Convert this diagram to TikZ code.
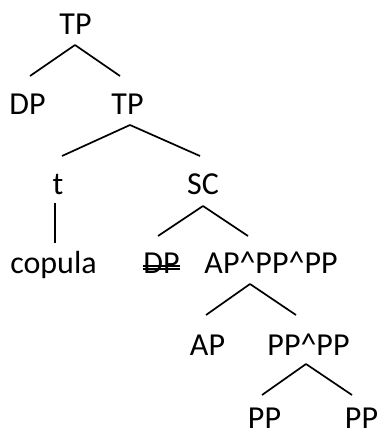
\documentclass[tikz,border=0pt]{standalone}
\usepackage{fontspec}
\setmainfont{Carlito}
\usepackage{tikz}

\begin{document}
\begin{tikzpicture}[
  x=0.5pt, y=-0.5pt,
  w/.style={anchor=base, inner sep=0pt, font=\fontsize{16}{19}\selectfont},
  br/.style={line width=0.85pt},
  strike/.style={line width=0.65pt}
]
  \useasboundingbox (0,0) rectangle (379,432);

  \node[w] (tp0)  at (75.5,35)  {TP};
  \node[w] (dp)   at (27.5,115) {DP};
  \node[w] (tp1)  at (127.5,115) {TP};
  \node[w] (t)    at (58,195)   {t};
  \node[w] (sc)   at (203,195)  {SC};
  \node[w] (cop)  at (53.5,273) {copula};
  \node[w] (dpx)  at (161.5,273) {DP};
  \node[w] (app)  at (271,273)  {AP\textasciicircum PP\textasciicircum PP};
  \node[w] (ap)   at (207.5,355) {AP};
  \node[w] (pp)   at (308.5,355) {PP\textasciicircum PP};
  \node[w] (pp1)  at (264.5,428) {PP};
  \node[w] (pp2)  at (361.5,428) {PP};

  \draw[br] ([shift={(-0.5,10)}]tp0.base) -- ([shift={(2.5,-39)}]dp.base);
  \draw[br] ([shift={(-0.5,10)}]tp0.base) -- ([shift={(-7.5,-39)}]tp1.base);
  \draw[br] ([shift={(2.5,10)}]tp1.base) -- ([shift={(4,-39)}]t.base);
  \draw[br] ([shift={(2.5,10)}]tp1.base) -- ([shift={(-3,-39)}]sc.base);
  \draw[br] ([shift={(-3,8)}]t.base) -- ([shift={(1.5,-30)}]cop.base);
  \draw[br] ([shift={(0,11)}]sc.base) -- ([shift={(-3.5,-37)}]dpx.base);
  \draw[br] ([shift={(0,11)}]sc.base) -- ([shift={(-23,-37)}]app.base);
  \draw[br] ([shift={(-21,11)}]app.base) -- ([shift={(-1.5,-40)}]ap.base);
  \draw[br] ([shift={(-21,11)}]app.base) -- ([shift={(-12.5,-40)}]pp.base);
  \draw[br] ([shift={(-2.5,9)}]pp.base) -- ([shift={(-2.5,-33)}]pp1.base);
  \draw[br] ([shift={(-2.5,9)}]pp.base) -- ([shift={(-9.5,-33)}]pp2.base);

  % double strike through the moved DP
  \draw[strike] ([yshift=3.5pt]dpx.base west) -- ([yshift=3.5pt]dpx.base east);
  \draw[strike] ([yshift=2pt]dpx.base west) -- ([yshift=2pt]dpx.base east);
\end{tikzpicture}
\end{document}
